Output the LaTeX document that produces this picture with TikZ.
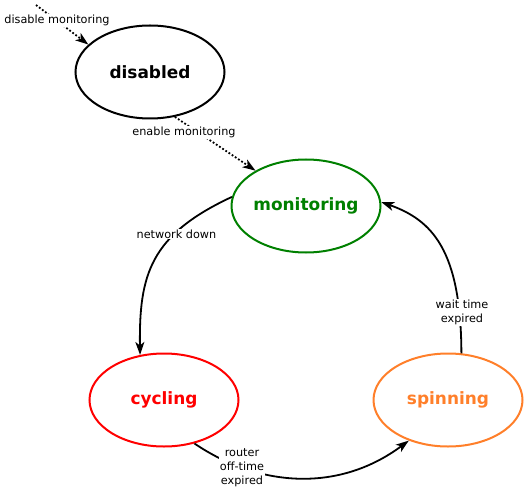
\documentclass[tikz,border=0pt]{standalone}
\usepackage{fontspec}
\setmainfont{DejaVu Sans}
\usetikzlibrary{shapes.geometric,arrows.meta}
\definecolor{stgreen}{HTML}{008000}
\definecolor{stred}{HTML}{FF0000}
\definecolor{storange}{HTML}{FF7F2A}
\tikzset{
  state/.style={ellipse,draw,line width=2bp,minimum width=149bp,minimum height=93bp,inner sep=0pt,
    font=\fontsize{17}{20}\selectfont\bfseries},
  edgelabel/.style={fill=white,inner sep=1bp,align=center,font=\fontsize{11.3}{14}\selectfont},
  trans/.style={line width=1.8bp,-{Stealth[length=13bp,width=9bp,inset=3.5bp]}},
  dottrans/.style={trans,dash pattern=on 1.8bp off 2bp},
}
\begin{document}
\begin{tikzpicture}[x=1bp,y=-1bp]
\useasboundingbox (0,0) rectangle (528,492);
\node[state] (disabled) at (150,72) {disabled};
\node[state,draw=stgreen,text=stgreen] (monitoring) at (306,206) {monitoring};
\node[state,draw=stred,text=stred] (cycling) at (164,400) {cycling};
\node[state,draw=storange,text=storange] (spinning) at (448,400) {spinning};
\coordinate (start) at (36,5);
% edges
\draw[dottrans] (start) -- (disabled.156.7);
\node[edgelabel] (l1) at (57,20.5) {disable monitoring};
\draw[dottrans] (disabled.-61) -- (monitoring.145.8);
\node[edgelabel] (l2) at (184,132.5) {enable monitoring};
\draw[trans] (monitoring.173) .. controls (150,235) and (139,275) .. (cycling.118);
\node[edgelabel] (l3) at (176.5,234) {network down};
\draw[trans] (spinning.74.5) .. controls (461,250) and (432,220) .. (monitoring.3);
\node[edgelabel] (l4) at (462,312.5) {wait time\\expired};
\draw[trans] (cycling.-55) .. controls (257,486) and (337,494) .. (spinning.-134);
\node[edgelabel] (l5) at (242,468) {router\\off-time\\expired};
\end{tikzpicture}
\end{document}
